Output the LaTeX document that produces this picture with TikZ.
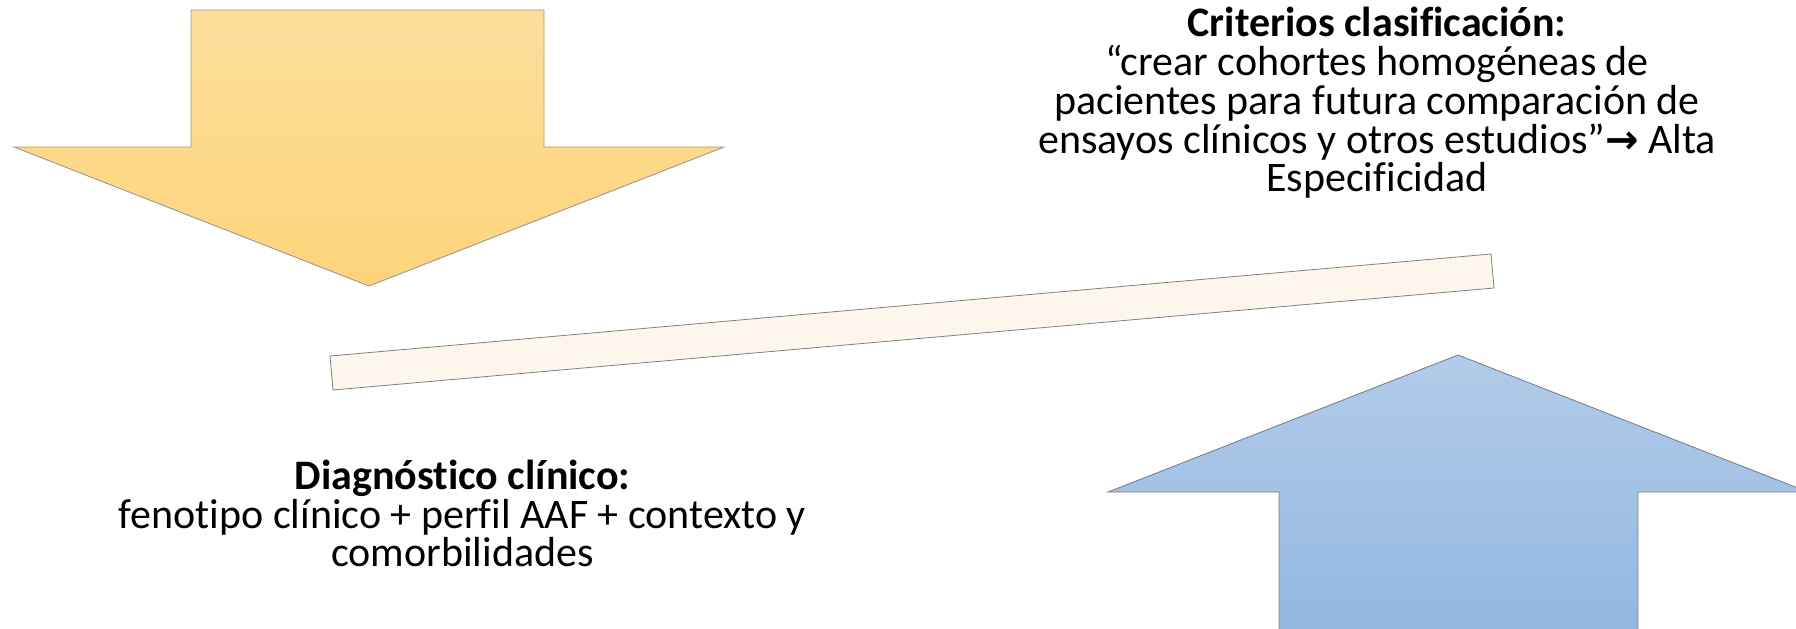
\documentclass[tikz,border=0pt]{standalone}
\usepackage{fontspec}
\setmainfont{Carlito}[Ligatures=NoCommon]
\newfontfamily\symfont{DejaVu Sans}
\begin{document}
\begin{tikzpicture}[x=1pt,y=-1pt,
  txt/.style={align=center, font=\fontsize{42}{38.8}\selectfont, inner sep=0pt}
]
\definecolor{ytop}{RGB}{253,222,155}
\definecolor{ybot}{RGB}{253,212,122}
\definecolor{btop}{RGB}{178,204,233}
\definecolor{bbot}{RGB}{146,182,225}
\definecolor{bardfill}{RGB}{253,246,236}
\useasboundingbox (0,0) rectangle (1796,629);
\clip (0,0) rectangle (1796,629);
% yellow down arrow
\path[draw=black!40!brown!60, line width=0.9pt, top color=ytop, bottom color=ybot]
  (191,10) -- (544,10) -- (544,147) -- (724,147) -- (369,286) -- (14,147) -- (191,147) -- cycle;
% blue up arrow
\path[draw=black!50, line width=0.9pt, top color=btop, bottom color=bbot]
  (1458,355) -- (1808,492) -- (1638,492) -- (1638,640) -- (1279,640) -- (1279,492) -- (1108,492) -- cycle;
% tilted bar
\path[draw=black!50, line width=0.8pt, fill=bardfill]
  (333,390) -- (1494,288) -- (1491,254) -- (330,356) -- cycle;
% texts
\node[txt] (crit) at (1377,103) {\textbf{Criterios clasificación:}\\“crear cohortes homogéneas de\\pacientes para futura comparación de\\ensayos clínicos y otros estudios”{\symfont\bfseries\fontsize{40}{38.8}\selectfont →} Alta\\Especificidad};
\node[txt] (diag) at (462.5,513.5) {\textbf{Diagnóstico clínico:}\\fenotipo clínico + perfil AAF + contexto y\\comorbilidades};
\end{tikzpicture}
\end{document}
